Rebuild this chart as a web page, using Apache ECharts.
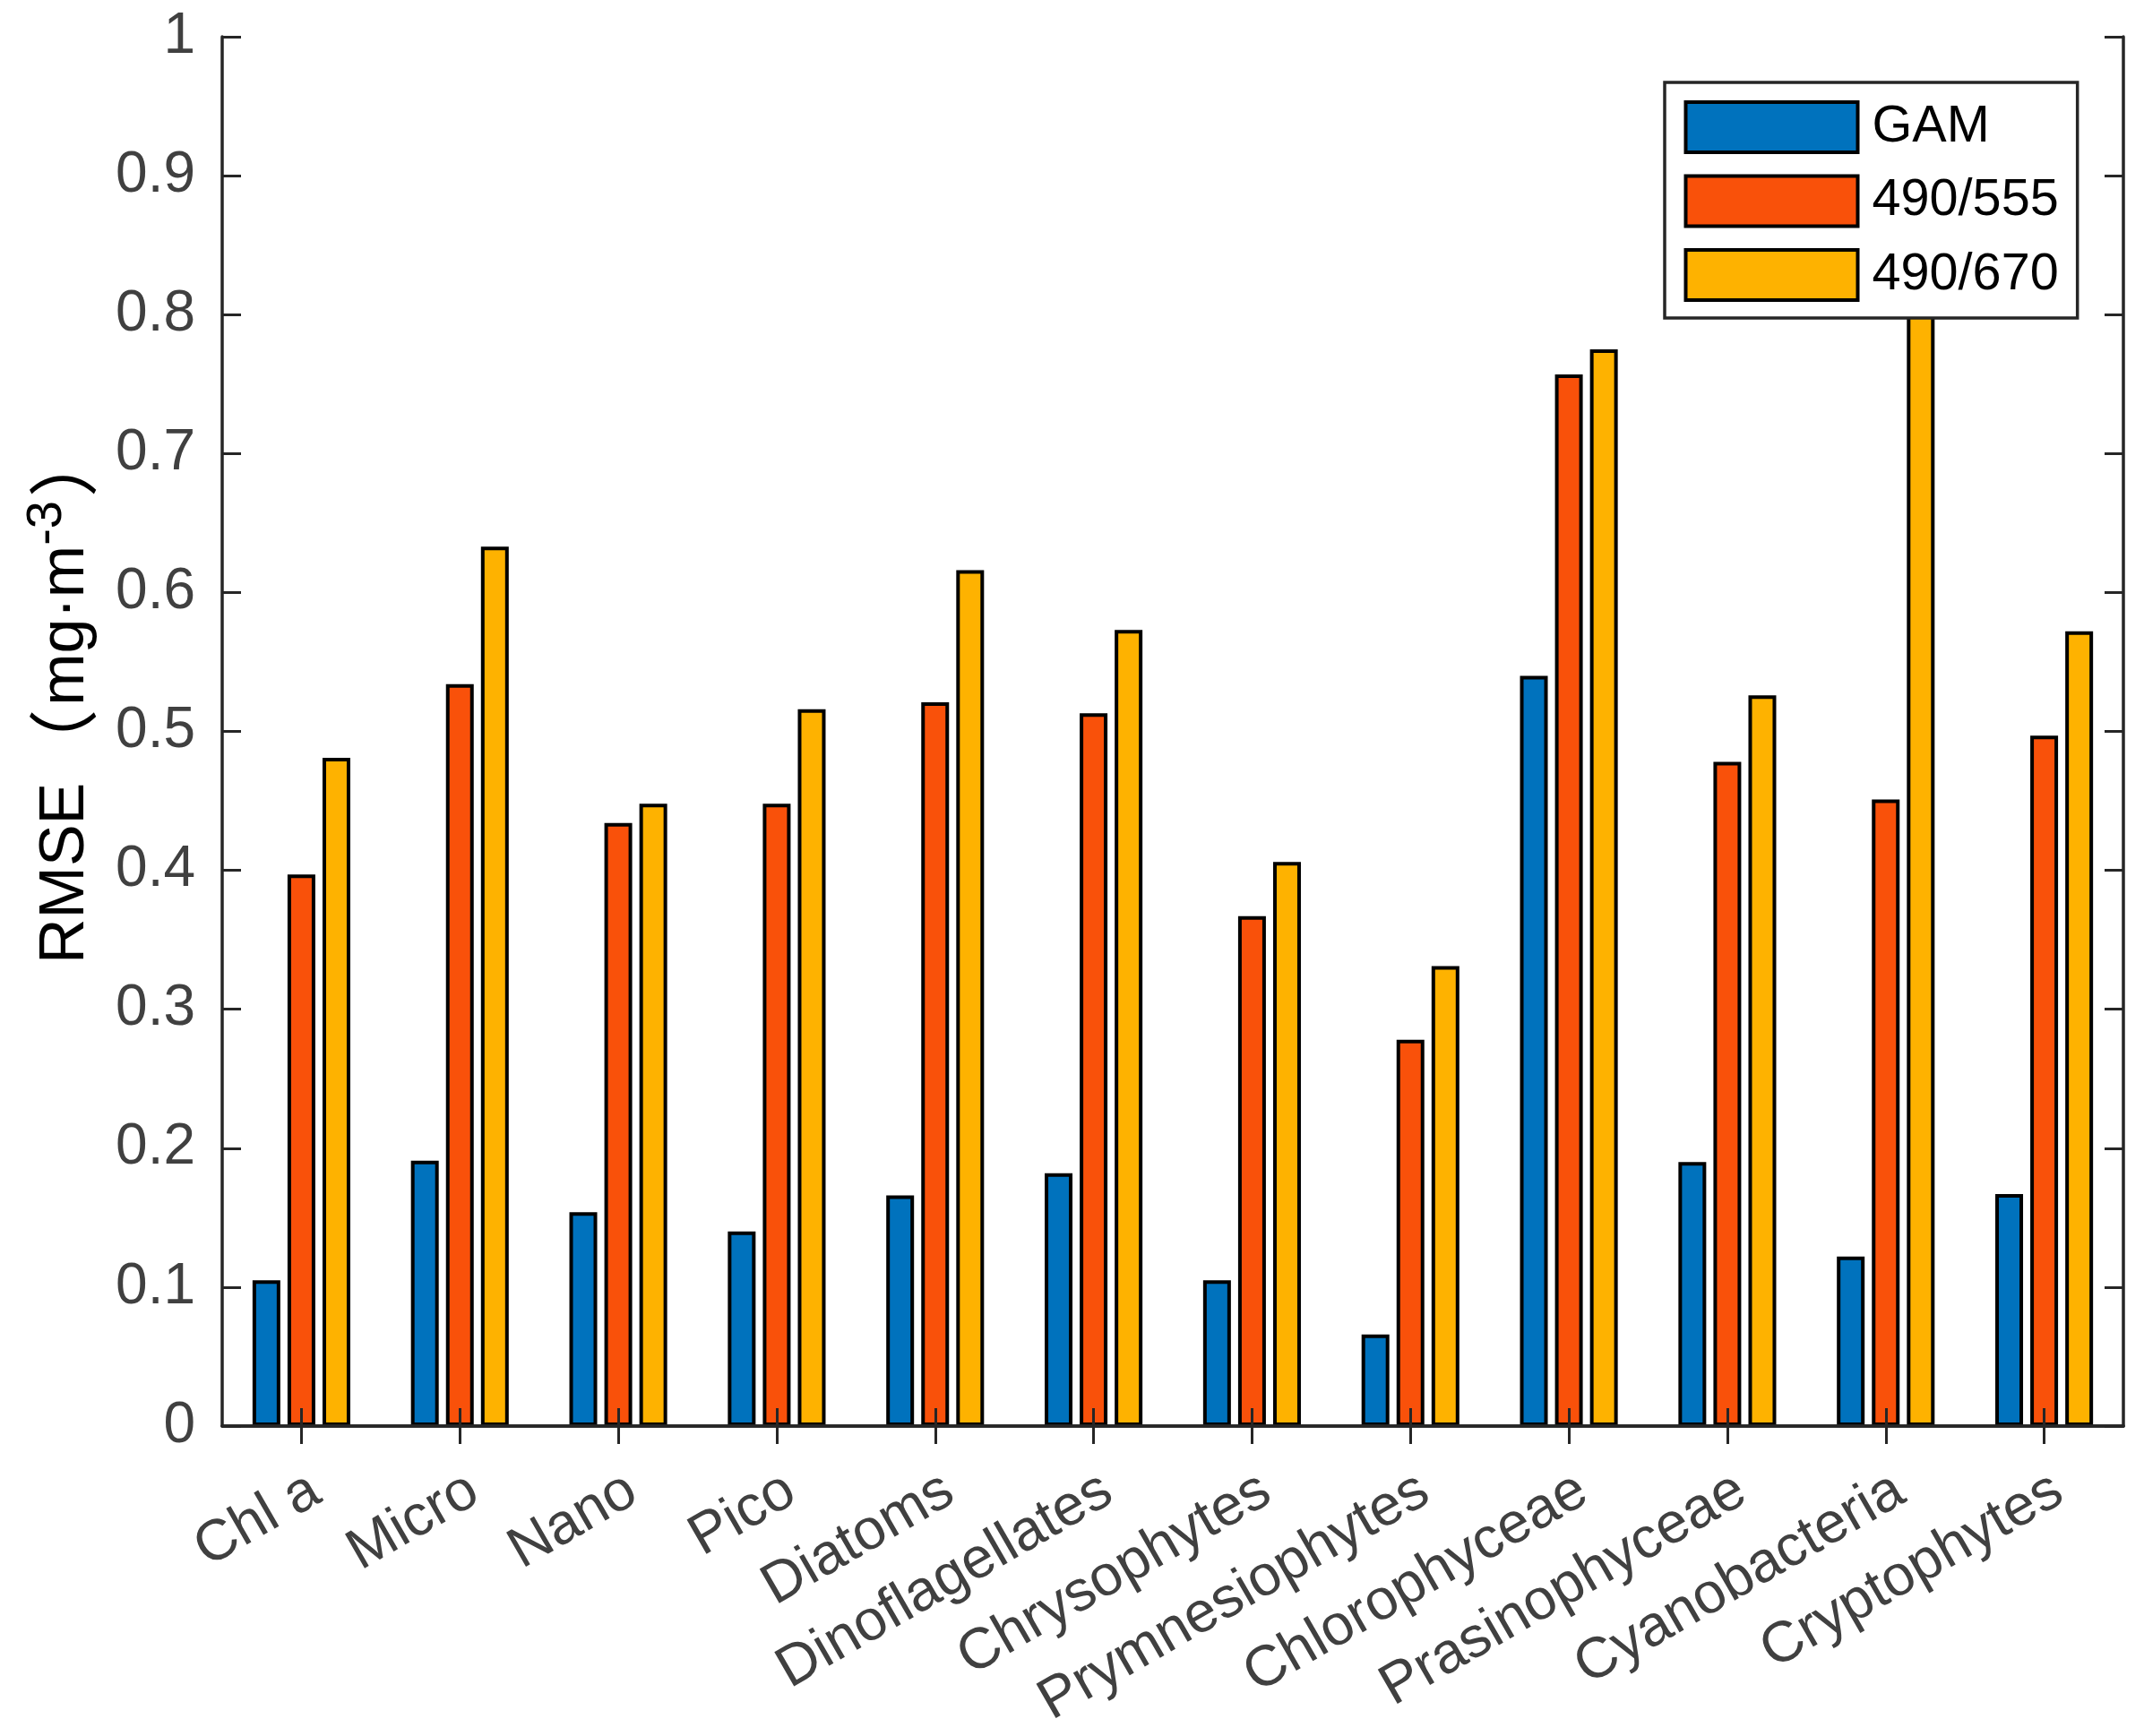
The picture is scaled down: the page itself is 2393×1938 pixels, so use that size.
<!DOCTYPE html>
<html>
<head>
<meta charset="utf-8">
<script src="https://cdn.jsdelivr.net/npm/echarts@6/dist/echarts.min.js"></script>
<style>html,body{margin:0;padding:0;background:#fff}#c{width:2393px;height:1938px}</style>
</head>
<body>
<div id="c"></div>
<script>
var categories = ['Chl a','Micro','Nano','Pico','Diatoms','Dinoflagellates','Chrysophytes','Prymnesiophytes','Chlorophyceae','Prasinophyceae','Cyanobacteria','Cryptophytes'];
var seriesNames = ['GAM','490/555','490/670'];
var gam    = [0.105,0.191,0.154,0.140,0.166,0.182,0.105,0.066,0.540,0.190,0.122,0.167];
var r555   = [0.397,0.534,0.434,0.448,0.521,0.513,0.367,0.278,0.757,0.478,0.451,0.497];
var r670   = [0.481,0.633,0.448,0.516,0.616,0.573,0.406,0.331,0.775,0.526,0.870,0.572];
var yTicks = [0,0.1,0.2,0.3,0.4,0.5,0.6,0.7,0.8,0.9,1];

var FONT = "'Liberation Sans', Arial, 'Noto Sans CJK SC', sans-serif";
var CJK = "'Noto Sans CJK SC', 'Liberation Sans', sans-serif";
var colors = ['#0072BD','#F9510A','#FEB200'];
var axisCol = '#262626';

var chart = echarts.init(document.getElementById('c'), null, {renderer:'canvas'});
function barSeries(name, data, color){
  return {
    name:name, type:'bar', data:data, xAxisIndex:0, yAxisIndex:0,
    barWidth:31, barGap:'26%',
    itemStyle:{color:color, borderColor:'#000', borderWidth:4},
    emphasis:{disabled:true}
  };
}
var option = {
  animation:false,
  backgroundColor:'#fff',
  textStyle:{fontFamily:FONT},
  grid:{left:248, right:23, top:41, bottom:346, outerBoundsMode:'none'},
  legend:{
    orient:'vertical', left:1858, top:92,
    padding:[20,21,18,21.5],
    itemWidth:192, itemHeight:56, itemGap:22.5,
    backgroundColor:'#fff', borderColor:axisCol, borderWidth:3.5, borderRadius:0,
    icon:'rect',
    itemStyle:{borderColor:'#000', borderWidth:4},
    textStyle:{fontFamily:FONT, fontSize:57.6, color:'#000', lineHeight:56, padding:[0,0,0,11]},
    data:seriesNames,
    z:20
  },
  xAxis:[
    {type:'category', data:categories, position:'bottom', z:10,
     axisLine:{show:true, lineStyle:{color:axisCol, width:3.5}},
     axisTick:{show:true, inside:true, length:20, alignWithLabel:true, lineStyle:{color:axisCol, width:3}},
     axisLabel:{rotate:30, align:'right', verticalAlign:'top', margin:40, fontSize:64, color:'#404040', fontFamily:FONT, interval:0},
     splitLine:{show:false}},
    {type:'category', data:categories, position:'top', z:10,
     axisLine:{show:true, lineStyle:{color:axisCol, width:3.5}},
     axisTick:{show:true, inside:true, length:20, alignWithLabel:true, lineStyle:{color:axisCol, width:3}},
     axisLabel:{show:false}, splitLine:{show:false}}
  ],
  yAxis:[
    {type:'value', min:0, max:1, interval:0.1, position:'left', z:10,
     name:'{a|RMSE}{p|（}{a|mg·m}{s|-3}{q|）}', nameLocation:'middle', nameGap:139, nameRotate:90,
     nameTextStyle:{fontFamily:FONT, color:'#000', padding:[0,0,0,80],
       rich:{a:{fontSize:70, fontFamily:FONT, color:'#000', lineHeight:84, verticalAlign:'bottom'},
             p:{fontSize:78, fontFamily:CJK, color:'#000', lineHeight:84, verticalAlign:'bottom', padding:[0,4,0,4]},
             q:{fontSize:78, fontFamily:CJK, color:'#000', lineHeight:84, verticalAlign:'bottom', padding:[0,0,0,4]},
             s:{fontSize:56, fontFamily:FONT, color:'#000', lineHeight:34, verticalAlign:'top'}}},
     axisLine:{show:true, lineStyle:{color:axisCol, width:3.5}},
     axisTick:{show:true, inside:true, length:21, lineStyle:{color:axisCol, width:3}},
     axisLabel:{fontSize:64, color:'#404040', margin:30, fontFamily:FONT,
       formatter:function(v){ var t=yTicks.find(function(k){return Math.abs(k-v)<1e-9;}); return String(t===undefined?v:t);} },
     splitLine:{show:false}},
    {type:'value', min:0, max:1, interval:0.1, position:'right', z:10,
     axisLine:{show:true, lineStyle:{color:axisCol, width:3.5}},
     axisTick:{show:true, inside:true, length:21, lineStyle:{color:axisCol, width:3}},
     axisLabel:{show:false}, splitLine:{show:false}}
  ],
  series:[
    barSeries(seriesNames[0], gam, colors[0]),
    barSeries(seriesNames[1], r555, colors[1]),
    barSeries(seriesNames[2], r670, colors[2])
  ]
};
chart.setOption(option);
</script>
</body>
</html>
